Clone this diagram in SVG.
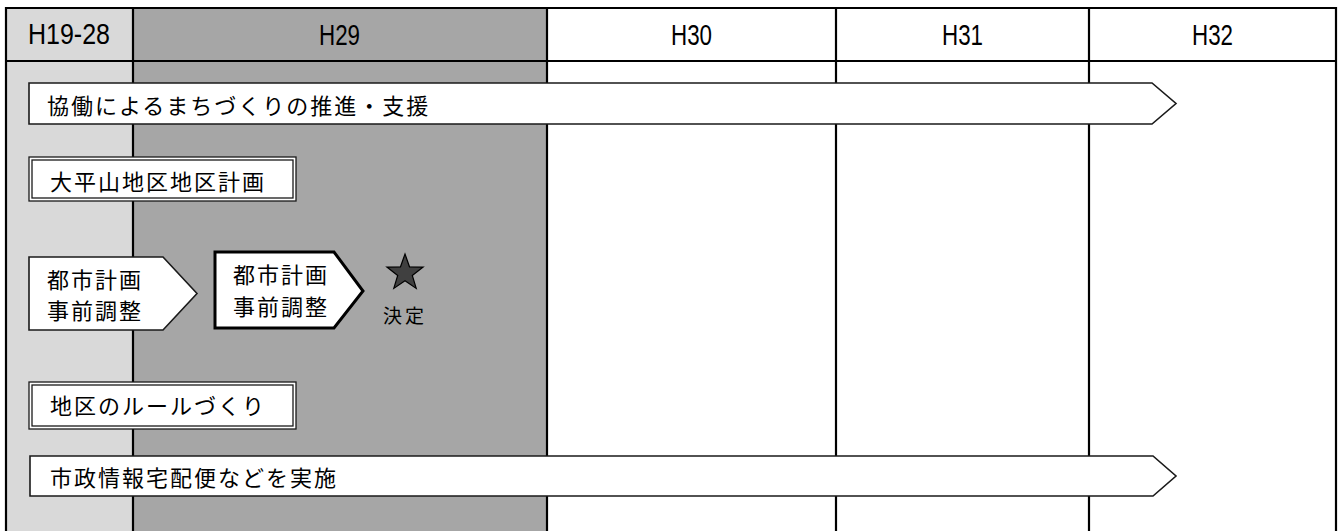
<svg xmlns="http://www.w3.org/2000/svg" width="1339" height="531" viewBox="0 0 1339 531">
<style>
.grid{stroke:#000;stroke-width:2.2;fill:none}
.hdr{font-family:"Liberation Sans",Arial,sans-serif;font-size:29px;fill:#000}
.jp{font-family:"Noto Sans CJK JP","Noto Sans",sans-serif;font-size:22px;letter-spacing:2px;fill:#000;dominant-baseline:central}
.arrow{fill:#fff;stroke:#1a1a1a;stroke-width:1.6;stroke-linejoin:miter}
.arrow-thick{fill:#fff;stroke:#000;stroke-width:3;stroke-linejoin:miter}
.dbl-out{fill:#fff;stroke:#1a1a1a;stroke-width:1.3}
.dbl-in{fill:none;stroke:#1a1a1a;stroke-width:1.3}
</style>
<rect width="1339" height="531" fill="#fff"/>
<g id="background">
<rect x="6" y="8" width="127" height="523" fill="#d9d9d9"/>
<rect x="133" y="8" width="414" height="523" fill="#a6a6a6"/>
<line class="grid" x1="6" y1="8" x2="1336" y2="8"/>
<line class="grid" x1="6" y1="61" x2="1336" y2="61"/>
<line class="grid" x1="6" y1="7" x2="6" y2="531"/>
<line class="grid" x1="133" y1="8" x2="133" y2="531"/>
<line class="grid" x1="547" y1="8" x2="547" y2="531"/>
<line class="grid" x1="836" y1="8" x2="836" y2="531"/>
<line class="grid" x1="1089" y1="8" x2="1089" y2="531"/>
<line class="grid" x1="1336" y1="7" x2="1336" y2="531"/>
<text class="hdr" x="28" y="44" textLength="82" lengthAdjust="spacingAndGlyphs">H19-28</text>
<text class="hdr" x="319" y="45" textLength="41" lengthAdjust="spacingAndGlyphs">H29</text>
<text class="hdr" x="671" y="45" textLength="41" lengthAdjust="spacingAndGlyphs">H30</text>
<text class="hdr" x="942" y="45" textLength="41" lengthAdjust="spacingAndGlyphs">H31</text>
<text class="hdr" x="1192" y="45" textLength="41" lengthAdjust="spacingAndGlyphs">H32</text>
</g>
<g id="connectors"></g>
<g id="node-kyodo">
<polygon class="arrow" points="29,83 1152,83 1176,103.5 1152,124 29,124"/>
<text class="jp" x="47" y="104">協働によるまちづくりの推進・支援</text>
</g>
<g id="node-ohirasan">
<rect class="dbl-out" x="29" y="157" width="267" height="44"/>
<rect class="dbl-in" x="32" y="160" width="261" height="38"/>
<text class="jp" x="50" y="180">大平山地区地区計画</text>
</g>
<g id="node-toshikeikaku-1">
<polygon class="arrow" points="29,257 163,257 197,293.5 163,330 29,330"/>
<text class="jp" x="47" y="278">都市計画</text>
<text class="jp" x="47" y="309">事前調整</text>
</g>
<g id="node-toshikeikaku-2">
<polygon class="arrow-thick" points="215,252 334,252 363,291 334,328 215,328"/>
<text class="jp" x="233" y="273">都市計画</text>
<text class="jp" x="233" y="305">事前調整</text>
</g>
<g id="node-kettei">
<polygon points="405,254 409.5,266.8 423.1,267.1 412.3,275.4 416.2,288.4 405,280.7 393.8,288.4 397.7,275.4 386.9,267.1 400.5,266.8" fill="#404040" stroke="#000" stroke-width="1.2" stroke-linejoin="miter"/>
<text class="jp" x="383" y="314" style="font-size:19px;letter-spacing:3px">決定</text>
</g>
<g id="node-rule">
<rect class="dbl-out" x="29" y="382" width="267" height="47"/>
<rect class="dbl-in" x="32" y="385" width="261" height="41"/>
<text class="jp" x="50" y="404">地区のルールづくり</text>
</g>
<g id="node-takuhaibin">
<polygon class="arrow" points="30,456 1153,456 1176,476 1153,496 30,496"/>
<text class="jp" x="50" y="476">市政情報宅配便などを実施</text>
</g>
</svg>
